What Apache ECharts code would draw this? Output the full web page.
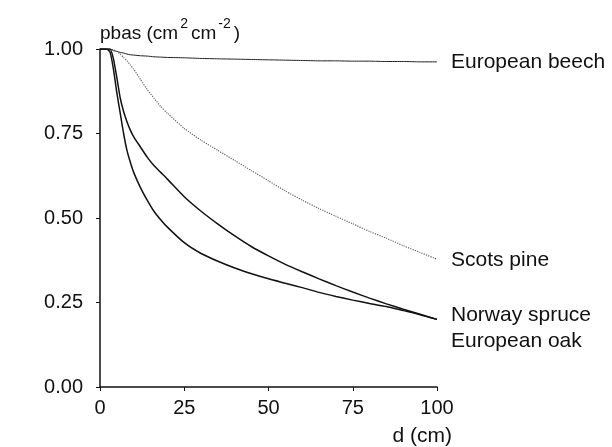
<!DOCTYPE html>
<html>
<head>
<meta charset="utf-8">
<script src="https://cdn.jsdelivr.net/npm/echarts@6/dist/echarts.min.js"></script>
<style>
  html, body { margin: 0; padding: 0; background: #fff; }
  #chart { width: 612px; height: 447px; }
</style>
</head>
<body>
<div id="chart"></div>
<script>
// distance d (cm) and relative basal area per species
const dVals = [0, 2, 3, 4, 5, 6, 7, 8, 9, 10, 12, 14, 16, 18, 20, 25, 30, 35, 40, 45, 50, 55, 60, 65, 70, 75, 80, 85, 90, 95, 100];
const beech = [1, 1, 1, 0.995, 0.993, 0.99, 0.988, 0.985, 0.983, 0.982, 0.98, 0.979, 0.977, 0.976, 0.975, 0.974, 0.972, 0.971, 0.97, 0.969, 0.968, 0.967, 0.966, 0.965, 0.965, 0.964, 0.964, 0.963, 0.963, 0.962, 0.962];
const pine = [1, 1, 1, 0.998, 0.993, 0.985, 0.975, 0.965, 0.953, 0.94, 0.91, 0.88, 0.855, 0.83, 0.81, 0.765, 0.73, 0.7, 0.67, 0.64, 0.61, 0.58, 0.553, 0.528, 0.505, 0.483, 0.46, 0.44, 0.418, 0.398, 0.378];
const spruce = [1, 1, 1, 0.97, 0.915, 0.855, 0.815, 0.785, 0.76, 0.74, 0.71, 0.68, 0.655, 0.635, 0.615, 0.563, 0.52, 0.482, 0.447, 0.415, 0.388, 0.363, 0.341, 0.32, 0.3, 0.281, 0.263, 0.246, 0.23, 0.215, 0.2];
const oak = [1, 1, 0.99, 0.94, 0.87, 0.81, 0.75, 0.7, 0.665, 0.635, 0.59, 0.553, 0.52, 0.495, 0.473, 0.427, 0.395, 0.372, 0.352, 0.335, 0.32, 0.307, 0.294, 0.28, 0.268, 0.257, 0.247, 0.238, 0.226, 0.214, 0.2];

const FONT = 'Liberation Sans';
const INK = '#111';

function pairs(ys) {
  return dVals.map((d, i) => [d, ys[i]]);
}

function makeSeries(name, ys, lineStyle, offset) {
  return {
    name: name,
    type: 'line',
    data: pairs(ys),
    showSymbol: false,
    smooth: 0.2,
    lineStyle: lineStyle,
    endLabel: {
      show: true,
      formatter: name,
      distance: 14,
      offset: offset,
      color: INK,
      fontFamily: FONT,
      fontSize: 21
    }
  };
}

var myChart = echarts.init(document.getElementById('chart'));

myChart.setOption({
  animation: false,
  backgroundColor: '#fff',
  grid: {
    left: 100,
    right: 175,
    top: 49,
    bottom: 60
  },
  xAxis: {
    type: 'value',
    min: 0,
    max: 100,
    interval: 25,
    name: 'd (cm)',
    nameLocation: 'end',
    nameGap: 15,
    nameTextStyle: {
      align: 'right',
      verticalAlign: 'top',
      padding: [39, 0, 0, 0],
      color: INK,
      fontFamily: FONT,
      fontSize: 21
    },
    axisLine: { lineStyle: { color: INK, width: 1.5 } },
    axisTick: { show: true, inside: false, length: 4, lineStyle: { color: INK } },
    axisLabel: { margin: 11, color: INK, fontFamily: FONT, fontSize: 20 },
    splitLine: { show: false }
  },
  yAxis: {
    type: 'value',
    min: 0,
    max: 1,
    interval: 0.25,
    name: '{n|pbas (cm}{s|2}{n|cm}{s|-2}{n|)}',
    nameLocation: 'end',
    nameGap: 6,
    nameTextStyle: {
      align: 'left',
      verticalAlign: 'bottom',
      rich: {
        n: { fontFamily: FONT, fontSize: 19, color: INK, lineHeight: 26, verticalAlign: 'bottom' },
        s: { fontFamily: FONT, fontSize: 14, color: INK, lineHeight: 26, verticalAlign: 'top', padding: [0, 3, 0, 2] }
      }
    },
    axisLine: { show: true, lineStyle: { color: INK, width: 1.5 } },
    axisTick: { show: true, inside: false, length: 4, lineStyle: { color: INK } },
    axisLabel: {
      margin: 17,
      color: INK,
      fontFamily: FONT,
      fontSize: 20,
      formatter: v => v.toFixed(2)
    },
    splitLine: { show: false }
  },
  series: [
    makeSeries('European beech', beech, { color: '#222', width: 1 }, [0, 0]),
    makeSeries('Scots pine', pine, { color: '#666', width: 1.2, type: 'dotted' }, [0, 1]),
    makeSeries('Norway spruce', spruce, { color: '#111', width: 1.5 }, [0, -4]),
    makeSeries('European oak', oak, { color: '#111', width: 1.5 }, [0, 22])
  ]
});
</script>
</body>
</html>
